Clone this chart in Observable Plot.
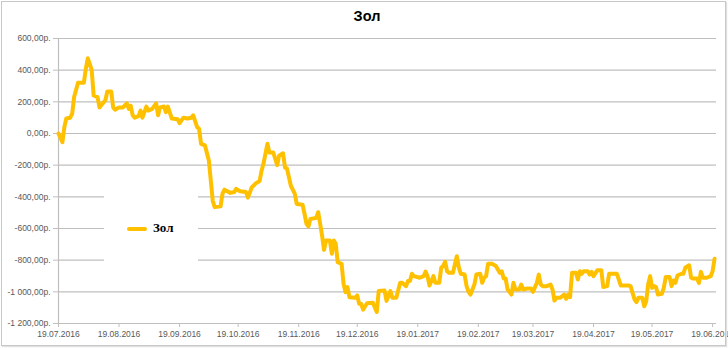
<!DOCTYPE html>
<html>
<head>
<meta charset="utf-8">
<script src="https://cdn.jsdelivr.net/npm/d3@7"></script>
<script src="https://cdn.jsdelivr.net/npm/@observablehq/plot@0.6"></script>
<style>
  html, body { margin: 0; padding: 0; background: #fff; }
  #chart { position: relative; width: 728px; height: 348px; overflow: hidden; }
  #frame { position: absolute; left: 1px; top: 1px; width: 723px; height: 343px; border: 1px solid #c8c8c8; box-shadow: 1px 1px 1px #e0e0e0; pointer-events: none; }
  #title { position: absolute; left: 0; top: 8px; width: 734px; text-align: center; font: bold 14.5px "Liberation Sans", Arial, sans-serif; color: #000; }
  #legend { position: absolute; left: 104px; top: 178px; width: 94px; height: 98px; background: #fff; }
  #legend .swatch { position: absolute; left: 23px; top: 49px; width: 20px; height: 4px; border-radius: 2px; background: #FFC000; }
  #legend .label { position: absolute; left: 49px; top: 42px; font: bold 13px "Liberation Serif", "Times New Roman", serif; color: #000; }
</style>
</head>
<body>
<div id="chart"></div>
<script>
const seriesName = "Зол";
const startDate = "19.07.2016";
const endDate = "21.06.2017";
const dayOffsets = [
  0,2,3,4,6,7,8,10,13,14,15,16,17,18,20,21,22,24,25,27,28,29,31,33,35,36,37,38,39,41,42,43,45,46,48,50,51,52,54,55,56,58,61,62,64,66,68,69,71,72,73,75,77,79,80,83,84,85,88,90,91,93,96,97,99,101,103,104,105,107,108,110,112,113,115,116,117,119,121,122,125,126,127,128,129,132,133,134,135,136,137,139,140,141,142,143,145,146,147,148,149,152,153,154,155,156,158,161,163,164,167,168,170,171,173,175,176,178,179,180,181,182,185,187,188,189,190,192,193,195,196,197,198,199,200,202,203,204,205,206,208,209,210,211,213,214,216,217,218,219,220,222,224,226,227,228,229,230,232,233,234,236,237,238,240,242,243,245,246,247,248,250,252,253,254,255,257,259,260,261,262,263,265,266,267,268,269,271,272,273,274,276,278,279,281,282,286,288,292,293,295,296,297,299,300,301,302,303,304,305,306,307,309,310,311,313,314,315,316,317,319,320,321,323,324,325,327,328,329,330,332,334,335,336
];
const values = [
  0,-55,40,95,100,125,230,320,320,410,475,440,400,240,230,165,180,210,265,265,165,150,165,165,190,155,175,115,100,110,145,100,170,145,155,190,115,165,170,135,170,95,90,65,100,95,100,115,40,30,-65,-75,-170,-425,-465,-460,-380,-355,-375,-370,-350,-365,-370,-405,-340,-315,-300,-235,-190,-65,-120,-120,-200,-140,-125,-215,-220,-330,-380,-445,-450,-507,-570,-587,-540,-533,-497,-570,-645,-735,-676,-676,-760,-676,-697,-813,-823,-950,-1002,-970,-1034,-1038,-1023,-1076,-1076,-1113,-1072,-1069,-1127,-995,-992,-1057,-995,-1038,-1038,-943,-943,-964,-932,-932,-886,-901,-911,-901,-872,-901,-960,-901,-943,-943,-848,-837,-810,-870,-880,-880,-827,-775,-844,-886,-891,-964,-1000,-1017,-954,-891,-886,-943,-911,-901,-823,-823,-837,-880,-870,-916,-916,-985,-1017,-943,-985,-985,-954,-985,-979,-979,-1000,-943,-891,-954,-964,-964,-954,-985,-1055,-1038,-1038,-1017,-1044,-1017,-1034,-880,-880,-922,-870,-886,-870,-870,-891,-874,-901,-863,-863,-970,-964,-886,-886,-960,-960,-964,-1048,-1065,-1038,-1038,-1091,-1059,-954,-901,-975,-964,-970,-1017,-1013,-975,-907,-907,-964,-928,-943,-897,-886,-886,-848,-832,-911,-916,-916,-943,-874,-911,-911,-901,-870,-791
];
const yTicks = [-1200,-1000,-800,-600,-400,-200,0,200,400,600];
const xTickLabels = ["19.07.2016","19.08.2016","19.09.2016","19.10.2016","19.11.2016","19.12.2016","19.01.2017","19.02.2017","19.03.2017","19.04.2017","19.05.2017","19.06.2017"];

const parseRu = d3.utcParse("%d.%m.%Y");
const fmtRu = d3.utcFormat("%d.%m.%Y");
const start = parseRu(startDate);
const end = parseRu(endDate);
const data = dayOffsets.map((d, i) => ({date: d3.utcDay.offset(start, d), value: values[i]}));
const xTicks = xTickLabels.map(parseRu);

const locale = d3.formatLocale({decimal: ",", thousands: " ", grouping: [3], currency: ["", ""], minus: "-"});
const numFmt = locale.format(",.2f");
const rub = v => numFmt(v) + "р.";

const axisColor = "#bfbfbf";
const textColor = "#595959";

const chart = Plot.plot({
  width: 728,
  height: 348,
  marginLeft: 58,
  marginRight: 12,
  marginTop: 38,
  marginBottom: 25,
  style: {fontFamily: "'Liberation Sans', Arial, sans-serif", fontSize: "8.5px", color: textColor, background: "transparent"},
  x: {type: "utc", domain: [start, end]},
  y: {domain: [yTicks[0], yTicks[yTicks.length - 1]]},
  marks: [
    Plot.gridY(yTicks.slice(1), {stroke: axisColor, strokeOpacity: 1, strokeWidth: 1.2}),
    Plot.ruleY([yTicks[0]], {stroke: axisColor, strokeWidth: 1.2}),
    Plot.ruleX([start], {stroke: axisColor, strokeWidth: 1.2}),
    Plot.axisY(yTicks, {tickFormat: rub, tickSize: 5, tickPadding: 3, stroke: axisColor, fill: textColor, label: null}),
    Plot.axisX(xTicks, {tickFormat: fmtRu, tickSize: 4, tickPadding: 3, stroke: axisColor, fill: textColor, label: null}),
    Plot.line(data, {x: "date", y: "value", stroke: "#FFC000", strokeWidth: 4, strokeLinejoin: "round", strokeLinecap: "round"})
  ]
});

const root = document.getElementById("chart");
root.appendChild(chart);
chart.style.position = "absolute";
chart.style.left = "0px";
chart.style.top = "0px";

const title = document.createElement("div");
title.id = "title";
title.textContent = seriesName;
root.appendChild(title);

const legend = document.createElement("div");
legend.id = "legend";
legend.innerHTML = '<div class="swatch"></div><div class="label"></div>';
legend.querySelector(".label").textContent = seriesName;
root.appendChild(legend);

const frame = document.createElement("div");
frame.id = "frame";
root.appendChild(frame);
</script>
</body>
</html>
